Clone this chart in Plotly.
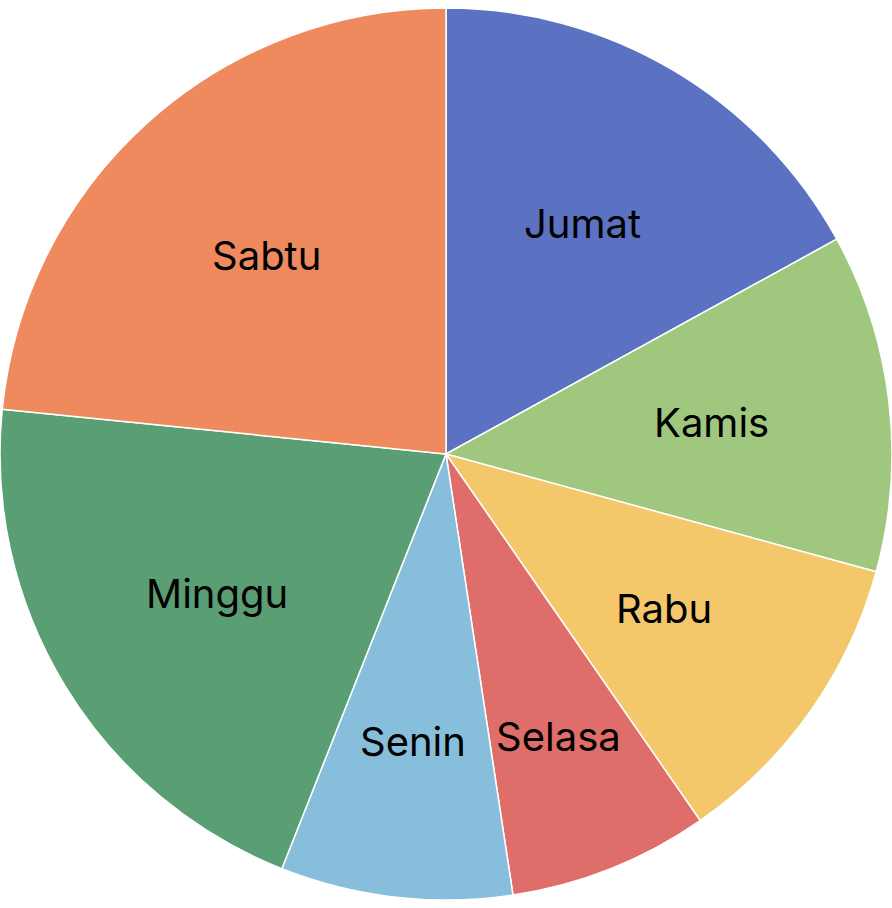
import math
import plotly.graph_objects as go

labels = ["Jumat", "Kamis", "Rabu", "Selasa", "Senin", "Minggu", "Sabtu"]
values = [17.0, 12.25, 11.1, 7.25, 8.4, 20.6, 23.4]
colors = ["#5b71c1", "#9fc87e", "#f3c76a", "#df6d69", "#86bedb", "#5a9e74", "#ee8a5e"]

W, H = 892, 908
fig = go.Figure(go.Pie(
    labels=labels, values=values, sort=False, direction="clockwise", rotation=0,
    marker=dict(colors=colors, line=dict(color="white", width=1.5)),
    textinfo="none",
    showlegend=False, hoverinfo="label+percent",
))

# label positions derived from the slice mid-angles; thin slices push labels outward
total = sum(values)
R = min(W, H) / 2
cum = 0.0
for lab, v in zip(labels, values):
    share = v / total * 100
    rf = 0.6 + 0.03 * max(0.0, 10.0 - share)
    mid = (cum + v / 2) / total * 2 * math.pi
    cum += v
    dx = rf * R * math.sin(mid)
    dy = rf * R * math.cos(mid)
    fig.add_annotation(x=0.5 + dx / W, y=0.5 + dy / H, xref="paper", yref="paper",
                       xanchor="center", yanchor="middle",
                       text=lab, showarrow=False,
                       font=dict(family="Inter", size=40, color="black"))

fig.update_layout(width=W, height=H, margin=dict(l=0, r=0, t=0, b=0),
                  paper_bgcolor="white")
fig.write_html("out.html")
